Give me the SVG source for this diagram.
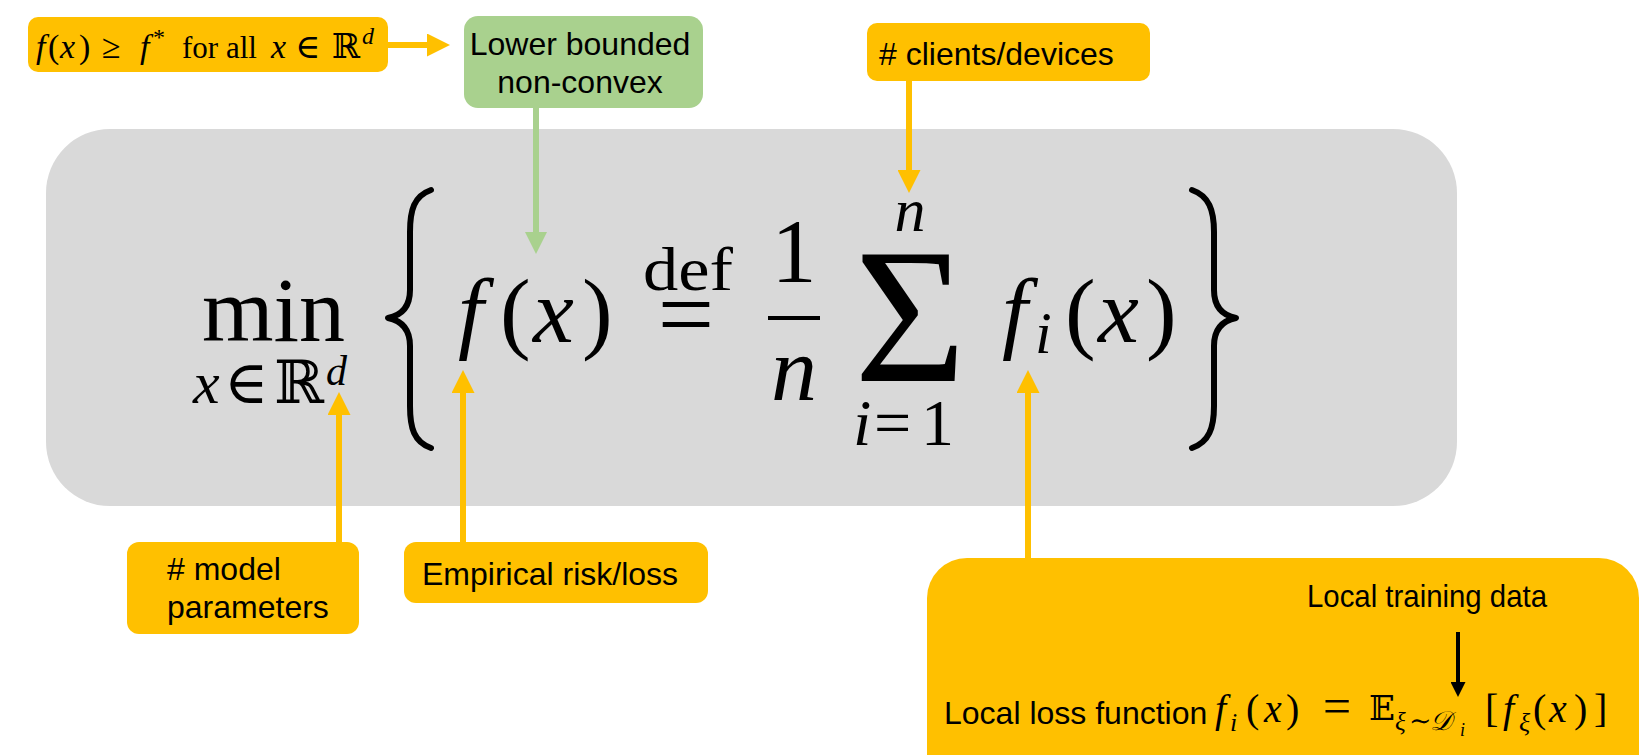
<svg xmlns="http://www.w3.org/2000/svg" width="1640" height="755" viewBox="0 0 1640 755">
<style>
.lbl{font-family:"Liberation Sans",Arial,sans-serif;font-size:32px;fill:#000}
.m{font-family:"Liberation Serif","DejaVu Serif",serif;fill:#000}
.it{font-style:italic}
.bb{font-family:"DejaVu Serif","DejaVu Sans",serif;font-style:normal}
.orange{fill:#ffc000}
.green{fill:#a9d18e}
.panel{fill:#d9d9d9}
.c-or{stroke:#ffc000;stroke-width:6;fill:none}
.c-gr{stroke:#a9d18e;stroke-width:6;fill:none}
.c-bk{stroke:#000;stroke-width:4;fill:none}
.brace{stroke:#000;stroke-width:6;fill:none;stroke-linecap:round;stroke-linejoin:round}
</style>
<defs>
<marker id="ah-or" viewBox="0 0 10 10" refX="0" refY="5" markerUnits="userSpaceOnUse" markerWidth="23" markerHeight="23" orient="auto"><path d="M0,0 L10,5 L0,10 z" fill="#ffc000"/></marker>
<marker id="ah-gr" viewBox="0 0 10 10" refX="0" refY="5" markerUnits="userSpaceOnUse" markerWidth="23" markerHeight="22" orient="auto"><path d="M0,0 L10,5 L0,10 z" fill="#a9d18e"/></marker>
<marker id="ah-bk" viewBox="0 0 10 10" refX="0" refY="5" markerUnits="userSpaceOnUse" markerWidth="15" markerHeight="15" orient="auto"><path d="M0,0 L10,5 L0,10 z" fill="#000"/></marker>
</defs>

<g id="formula">
<rect class="panel" x="46" y="129" width="1411" height="377" rx="64"/>
<text class="m" x="202" y="341" font-size="92">min</text>
<text class="m it" x="193" y="403" font-size="60">x</text>
<text class="m" x="224" y="403" font-size="60">∈</text>
<text class="m" x="274" y="403" font-size="60">ℝ</text>
<text class="m it" x="326" y="385" font-size="42">d</text>
<path class="brace" d="M431,190 C414,196 410,210 410,232 L410,290 C410,306 403,315 388,318 C403,321 410,330 410,346 L410,406 C410,428 414,442 431,448"/>
<text class="m it" x="458" y="342" font-size="92">f</text>
<text class="m" x="500" y="342" font-size="92">(</text>
<text class="m it" x="533" y="342" font-size="92">x</text>
<text class="m" x="582" y="342" font-size="92">)</text>
<text class="m" x="643" y="290" font-size="62" textLength="90" lengthAdjust="spacingAndGlyphs">def</text>
<text class="m" x="686" y="348" font-size="100" text-anchor="middle">=</text>
<text class="m" x="794" y="282" font-size="90" text-anchor="middle">1</text>
<line x1="768" y1="318" x2="820" y2="318" stroke="#000" stroke-width="4"/>
<text class="m it" x="794" y="400" font-size="92" text-anchor="middle">n</text>
<text class="m it" x="910" y="231" font-size="62" text-anchor="middle">n</text>
<text class="m" x="910" y="381" font-size="192" text-anchor="middle">Σ</text>
<text class="m it" x="853" y="445" font-size="66">i</text>
<text class="m" x="874" y="445" font-size="66">=</text>
<text class="m" x="921" y="445" font-size="66">1</text>
<text class="m it" x="1002" y="342" font-size="92">f</text>
<text class="m it" x="1035" y="353" font-size="60">i</text>
<text class="m" x="1065" y="342" font-size="92">(</text>
<text class="m it" x="1098" y="342" font-size="92">x</text>
<text class="m" x="1146" y="342" font-size="92">)</text>
<path class="brace" d="M1192,190 C1209,196 1214,210 1214,232 L1214,290 C1214,306 1221,315 1236,318 C1221,321 1214,330 1214,346 L1214,406 C1214,428 1209,442 1192,448"/>
</g>

<g id="node-lower-bound-def">
<rect class="orange" x="28" y="17" width="360" height="55" rx="10"/>
<text class="m" y="58" font-size="34"><tspan class="it" x="36">f</tspan><tspan x="48">(</tspan><tspan class="it" x="60">x</tspan><tspan x="79">)</tspan><tspan x="102">≥</tspan><tspan class="it" x="140">f</tspan><tspan x="153" dy="-13" font-size="24">*</tspan><tspan x="182" dy="13" font-size="31">for all</tspan><tspan class="it" x="271">x</tspan><tspan x="295">∈</tspan><tspan x="332">ℝ</tspan><tspan class="it" x="362" dy="-14" font-size="24">d</tspan></text>
</g>

<g id="node-lower-bounded">
<rect class="green" x="464" y="16" width="239" height="92" rx="14"/>
<text class="lbl" x="580" y="55" text-anchor="middle">Lower bounded</text>
<text class="lbl" x="580" y="93" text-anchor="middle">non-convex</text>
</g>

<g id="node-clients">
<rect class="orange" x="867" y="23" width="283" height="58" rx="10"/>
<text class="lbl" x="879" y="65"># clients/devices</text>
</g>

<g id="node-model-params">
<rect class="orange" x="127" y="542" width="232" height="92" rx="12"/>
<text class="lbl" x="167" y="580"># model</text>
<text class="lbl" x="167" y="618">parameters</text>
</g>

<g id="node-empirical">
<rect class="orange" x="404" y="542" width="304" height="61" rx="12"/>
<text class="lbl" x="422" y="585">Empirical risk/loss</text>
</g>

<g id="node-local-loss">
<rect class="orange" x="927" y="558" width="712" height="260" rx="40"/>
<text class="lbl" x="1307" y="607" font-size="26" textLength="240" lengthAdjust="spacingAndGlyphs">Local training data</text>
<text class="lbl" x="944" y="724" font-size="32.5">Local loss function</text>
<text class="m it" x="1215" y="722" font-size="40">f</text>
<text class="m it" x="1230" y="731" font-size="26">i</text>
<text class="m" x="1246" y="722" font-size="40">(</text>
<text class="m it" x="1264" y="722" font-size="40">x</text>
<text class="m" x="1286" y="722" font-size="40">)</text>
<text class="m" x="1323" y="723" font-size="50">=</text>
<text class="m bb" x="1369" y="720" font-size="34">𝔼</text>
<text class="m it" x="1395" y="730" font-size="25">ξ</text>
<text class="m" x="1409" y="730" font-size="27">∼</text>
<text class="m it" x="1430" y="730" font-size="27">𝒟</text>
<text class="m it" x="1460" y="736" font-size="18">i</text>
<text class="m" x="1485" y="722" font-size="40">[</text>
<text class="m it" x="1503" y="722" font-size="40">f</text>
<text class="m it" x="1519" y="731" font-size="26">ξ</text>
<text class="m" x="1533" y="722" font-size="40">(</text>
<text class="m it" x="1549" y="722" font-size="40">x</text>
<text class="m" x="1574" y="722" font-size="40">)</text>
<text class="m" x="1594" y="722" font-size="40">]</text>
</g>

<g id="connectors">
<path class="c-or" d="M388,45 H427" marker-end="url(#ah-or)"/>
<path class="c-gr" d="M536,108 V232" marker-end="url(#ah-gr)"/>
<path class="c-or" d="M909,81 V170" marker-end="url(#ah-or)"/>
<path class="c-or" d="M339,542 V415" marker-end="url(#ah-or)"/>
<path class="c-or" d="M463,542 V393" marker-end="url(#ah-or)"/>
<path class="c-or" d="M1028,558 V393" marker-end="url(#ah-or)"/>
<path class="c-bk" d="M1458,632 V682" marker-end="url(#ah-bk)"/>
</g>
</svg>
